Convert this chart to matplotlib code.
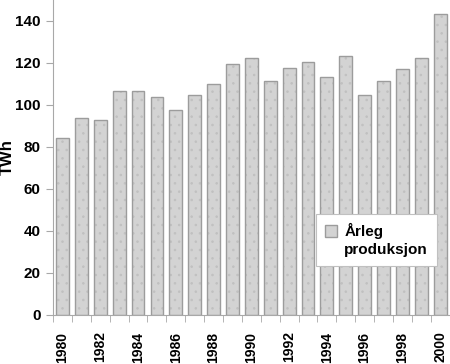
import numpy as np
import matplotlib
matplotlib.use('Agg')
import matplotlib.pyplot as plt
from matplotlib.patches import Patch

plt.rcParams['font.family'] = ['Liberation Sans', 'DejaVu Sans']
plt.rcParams['hatch.linewidth'] = 0.6

years = list(range(1980, 2001))
twh = [84.4, 93.6, 93.0, 106.6, 106.6, 103.6, 97.5, 104.6, 109.8, 119.3, 122.2,
       111.3, 117.4, 120.3, 113.1, 123.3, 104.6, 111.3, 117.2, 122.6, 143.3]
tick_years = years[::2]
legend_lines = ['Årleg', 'produksjon']

fill = '#d3d3d3'
edge = '#9c9c9c'
axcol = '#a8a8a8'

fig = plt.figure(figsize=(4.5, 3.64), dpi=100)
ax = fig.add_axes([0.118, 0.135, 0.881, 0.865])

x = np.arange(len(years))
# stippled fill, then outline on top
ax.bar(x, twh, width=0.68, color=fill, hatch='..', edgecolor='#c0c0c0', linewidth=0)
ax.bar(x, twh, width=0.68, fill=False, edgecolor=edge, linewidth=1.0)

ax.set_xlim(-0.5, len(years) - 0.5)
ax.set_ylim(0, 150)
ax.set_yticks(np.arange(0, 141, 20))
ax.set_xticks([years.index(y) for y in tick_years])
ax.set_xticklabels([str(y) for y in tick_years], rotation=90, fontweight='bold', fontsize=10)
ax.set_xticks(np.arange(-0.5, len(years)), minor=True)
ax.tick_params(axis='x', which='major', length=0, pad=12)
ax.tick_params(axis='x', which='minor', length=5, color=axcol, direction='out')
ax.tick_params(axis='y', length=5, color=axcol, pad=4, labelsize=11)
for lab in ax.get_yticklabels():
    lab.set_fontweight('bold')

ax.set_ylabel('TWh', fontweight='bold', fontsize=12)
ax.yaxis.set_label_coords(-0.097, 0.5)

for s in ['top', 'right']:
    ax.spines[s].set_visible(False)
ax.spines['left'].set_color(axcol)
ax.spines['bottom'].set_color(axcol)

# legend: square next to first line only
h1 = Patch(facecolor=fill, edgecolor=edge, linewidth=1)
h2 = Patch(facecolor='none', edgecolor='none')
leg = ax.legend([h1, h2], legend_lines, loc='upper left',
                bbox_to_anchor=(316 / 450, 1 - 214 / 364),
                bbox_transform=fig.transFigure, fancybox=False, framealpha=1,
                edgecolor='#c0c0c0', prop={'weight': 'bold', 'size': 11},
                handlelength=0.75, handleheight=0.75, handletextpad=0.5,
                borderpad=0.6, labelspacing=0.25, borderaxespad=0)
leg.get_frame().set_linewidth(0.8)

fig.savefig('out.png', dpi=100)
